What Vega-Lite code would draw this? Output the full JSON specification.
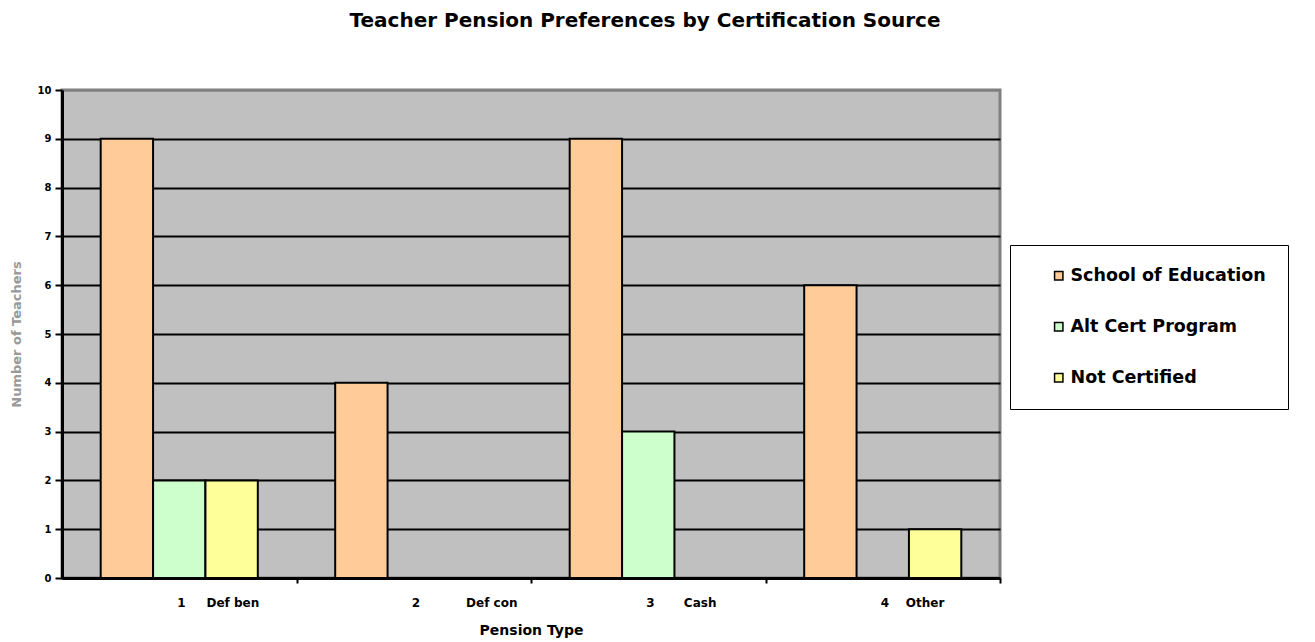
{
  "$schema": "https://vega.github.io/schema/vega-lite/v6.json",
  "autosize": {"type": "none"},
  "padding": {"left": 62, "top": 90, "right": 315, "bottom": 64},
  "width": 938,
  "height": 488,
  "background": "white",
  "title": {
    "text": "Teacher Pension Preferences by Certification Source",
    "anchor": "middle",
    "dx": 114,
    "offset": 54,
    "font": "DejaVu Sans",
    "fontSize": 20,
    "fontWeight": "bold",
    "color": "black"
  },
  "config": {
    "view": {"fill": "#C0C0C0", "stroke": "#808080", "strokeWidth": 3},
    "font": "DejaVu Sans"
  },
  "data": {
    "values": [
      {"pension": "1\u00a0\u00a0\u00a0\u00a0\u00a0Def ben", "source": "School of Education", "teachers": 9},
      {"pension": "1\u00a0\u00a0\u00a0\u00a0\u00a0Def ben", "source": "Alt Cert Program", "teachers": 2},
      {"pension": "1\u00a0\u00a0\u00a0\u00a0\u00a0Def ben", "source": "Not Certified", "teachers": 2},
      {"pension": "2\u00a0\u00a0\u00a0\u00a0\u00a0\u00a0\u00a0\u00a0\u00a0\u00a0\u00a0Def con", "source": "School of Education", "teachers": 4},
      {"pension": "3\u00a0\u00a0\u00a0\u00a0\u00a0\u00a0\u00a0Cash", "source": "School of Education", "teachers": 9},
      {"pension": "3\u00a0\u00a0\u00a0\u00a0\u00a0\u00a0\u00a0Cash", "source": "Alt Cert Program", "teachers": 3},
      {"pension": "4\u00a0\u00a0\u00a0\u00a0Other", "source": "School of Education", "teachers": 6},
      {"pension": "4\u00a0\u00a0\u00a0\u00a0Other", "source": "Not Certified", "teachers": 1}
    ]
  },
  "mark": {"type": "bar", "stroke": "black", "strokeWidth": 2},
  "encoding": {
    "x": {
      "field": "pension",
      "type": "nominal",
      "sort": null,
      "scale": {"paddingInner": 0.33, "paddingOuter": 0.165},
      "axis": {
        "title": "Pension Type",
        "titleFontSize": 14,
        "titleFontWeight": "bold",
        "titleColor": "black",
        "titlePadding": 15,
        "labelAngle": 0,
        "labelAlign": "left",
        "bandPosition": 1.25,
        "labelOffset": -2,
        "labelFontSize": 12,
        "labelFontWeight": "bold",
        "labelColor": "black",
        "labelPadding": 14,
        "domainColor": "black",
        "domainWidth": 3,
        "tickColor": "black",
        "tickSize": 5,
        "tickWidth": 2,
        "grid": false
      }
    },
    "xOffset": {
      "field": "source",
      "type": "nominal",
      "scale": {"domain": ["School of Education", "Alt Cert Program", "Not Certified"], "paddingInner": 0, "paddingOuter": 0}
    },
    "y": {
      "field": "teachers",
      "type": "quantitative",
      "scale": {"domain": [0, 10]},
      "axis": {
        "title": "Number of Teachers",
        "titleFontSize": 13,
        "titleFontWeight": "bold",
        "titleColor": "#999999",
        "titlePadding": 14,
        "values": [0, 1, 2, 3, 4, 5, 6, 7, 8, 9, 10],
        "labelFontSize": 10,
        "labelFontWeight": "bold",
        "labelColor": "black",
        "labelPadding": 4,
        "domainColor": "black",
        "domainWidth": 3,
        "tickColor": "black",
        "tickSize": 7,
        "tickWidth": 2,
        "grid": true,
        "gridColor": {"condition": {"test": "datum.value == 10", "value": "#808080"}, "value": "black"},
        "gridWidth": 2,
        "gridOpacity": 1
      }
    },
    "color": {
      "field": "source",
      "type": "nominal",
      "scale": {
        "domain": ["School of Education", "Alt Cert Program", "Not Certified"],
        "range": ["#FFCC99", "#CCFFCC", "#FFFF99"]
      },
      "legend": {
        "title": null,
        "orient": "none",
        "legendX": 948,
        "legendY": 155,
        "direction": "vertical",
        "fillColor": "white",
        "strokeColor": "black",
        "padding": 22,
        "rowPadding": 32,
        "symbolType": "square",
        "symbolSize": 70,
        "symbolStrokeColor": "black",
        "symbolStrokeWidth": 1.5,
        "symbolOffset": 18,
        "labelOffset": 3,
        "labelFontSize": 17.5,
        "labelFontWeight": "bold",
        "labelColor": "black",
        "labelLimit": 400
      }
    }
  }
}
